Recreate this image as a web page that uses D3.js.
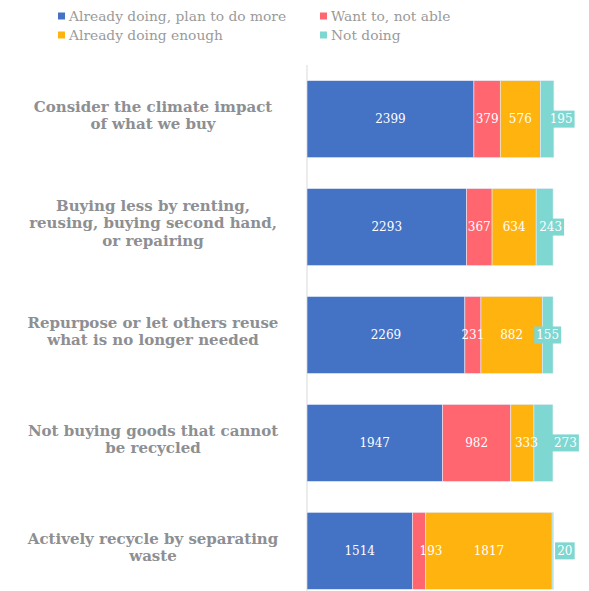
<!DOCTYPE html>
<html>
<head>
<meta charset="utf-8">
<script src="https://cdn.jsdelivr.net/npm/d3@7"></script>
<style>
  html, body { margin: 0; padding: 0; background: #fff; }
  svg { display: block; }
</style>
</head>
<body>
<div id="chart"></div>
<script>
// data
const categories = [
  ["Consider the climate impact", "of what we buy"],
  ["Buying less by renting,", "reusing, buying second hand,", "or repairing"],
  ["Repurpose or let others reuse", "what is no longer needed"],
  ["Not buying goods that cannot", "be recycled"],
  ["Actively recycle by separating", "waste"]
];
const seriesNames = ["Already doing, plan to do more", "Want to, not able", "Already doing enough", "Not doing"];
const planMore   = [2399, 2293, 2269, 1947, 1514];
const wantNot    = [379, 367, 231, 982, 193];
const doingEnough = [576, 634, 882, 333, 1817];
const notDoing   = [195, 243, 155, 273, 20];

const colors = ["#4472C4", "#FF6670", "#FFB30F", "#7ED7D1"];

// label nudges so numbers don't collide (like excel does)
const calloutShift = [14, 6, 0, 22, 12];
const nudge = { "4-1": 12, "3-2": 4 };

const W = 589, H = 591;
const axisX = 307;

const svg = d3.select("#chart").append("svg")
  .attr("width", W)
  .attr("height", H);

const values = [planMore, wantNot, doingEnough, notDoing];
const rows = categories.map((c, i) => {
  const r = { idx: i, lines: c };
  values.forEach((v, k) => r["s" + k] = v[i]);
  return r;
});

const stack = d3.stack().keys(["s0", "s1", "s2", "s3"])(rows);

const x = d3.scaleLinear().domain([0, 4000]).range([axisX, axisX + 278.3]);
const y = d3.scaleBand()
  .domain(d3.range(categories.length))
  .range([65, 605])
  .paddingInner(0.287)
  .paddingOuter(0.145);

// vertical axis line
svg.append("line")
  .attr("x1", axisX).attr("x2", axisX)
  .attr("y1", 65).attr("y2", H)
  .attr("stroke", "#d9d9d9")
  .attr("stroke-width", 1);

// bars
const layer = svg.append("g")
  .selectAll("g")
  .data(stack)
  .join("g")
    .attr("fill", (d, k) => colors[k]);

layer.selectAll("rect")
  .data(d => d)
  .join("rect")
    .attr("x", d => x(d[0]))
    .attr("y", d => y(d.data.idx))
    .attr("width", d => x(d[1]) - x(d[0]))
    .attr("height", y.bandwidth())
    .attr("stroke", "#e6ecf7")
    .attr("stroke-width", 0.6);

// value labels
const valFont = "'DejaVu Serif', Georgia, serif";
stack.forEach((s, k) => {
  s.forEach(d => {
    const i = d.data.idx;
    const v = d[1] - d[0];
    const cy = y(i) + y.bandwidth() / 2;
    let cx = (x(d[0]) + x(d[1])) / 2 + (nudge[i + "-" + k] || 0);
    if (k === 3) {
      cx += calloutShift[i];
      const txt = String(v);
      const bw = txt.length * 7.3 + 5;
      svg.append("rect")
        .attr("x", cx - bw / 2)
        .attr("y", cy - 8.5)
        .attr("width", bw)
        .attr("height", 17)
        .attr("fill", colors[3]);
    }
    svg.append("text")
      .attr("x", cx)
      .attr("y", cy)
      .attr("dy", "0.36em")
      .attr("text-anchor", "middle")
      .attr("font-family", valFont)
      .attr("font-size", "12px")
      .attr("fill", "#fff")
      .text(v);
  });
});

// category labels
const catG = svg.append("g")
  .attr("font-family", valFont)
  .attr("font-weight", "bold")
  .attr("font-size", "15px")
  .attr("fill", "#8d8f93")
  .attr("text-anchor", "middle");

rows.forEach(r => {
  const lh = 17.5;
  const c = y(r.idx) + y.bandwidth() / 2 - 4;
  const top = c - (r.lines.length - 1) * lh / 2;
  r.lines.forEach((ln, j) => {
    catG.append("text")
      .attr("x", 153)
      .attr("y", top + j * lh)
      .attr("dy", "0.36em")
      .text(ln);
  });
});

// legend
const legendPos = [[58, 16], [320, 16], [58, 35], [320, 35]];
const legendOrder = [0, 1, 2, 3];
const leg = svg.append("g")
  .attr("font-family", valFont)
  .attr("font-size", "13.8px")
  .attr("fill", "#9a9a9a");

legendOrder.forEach((k, n) => {
  const [lx, ly] = legendPos[n];
  leg.append("rect")
    .attr("x", lx).attr("y", ly - 3.5)
    .attr("width", 7).attr("height", 7)
    .attr("fill", colors[k]);
  leg.append("text")
    .attr("x", lx + 11)
    .attr("y", ly)
    .attr("dy", "0.36em")
    .text(seriesNames[k]);
});
</script>
</body>
</html>
